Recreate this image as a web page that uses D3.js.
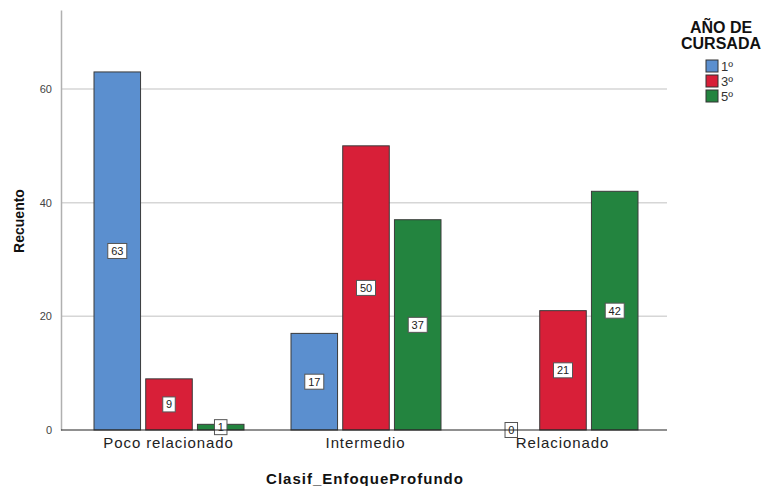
<!DOCTYPE html>
<html>
<head>
<meta charset="utf-8">
<script src="https://cdn.jsdelivr.net/npm/d3@7"></script>
<style>
  body { margin: 0; background: #fff; }
  svg { font-family: "Liberation Sans", Arial, sans-serif; }
</style>
</head>
<body>
<svg id="vis" width="763" height="486"></svg>
<script>
var categories = ["Poco relacionado", "Intermedio", "Relacionado"];
var years = ["1º", "3º", "5º"];
var anio1 = [63, 17, 0];
var anio3 = [9, 50, 21];
var anio5 = [1, 37, 42];
var yTicks = [0, 20, 40, 60];
var colors = ["#5b8fcf", "#d81f38", "#23843f"];

var series = [anio1, anio3, anio5];
var svg = d3.select("#vis");

var plot = { left: 61, right: 667, top: 10, bottom: 430 };

// escalas
var x0 = d3.scaleBand()
    .domain(categories)
    .range([70, 661])
    .padding(0);

var x1 = d3.scaleBand()
    .domain(years)
    .range([24, 174])
    .paddingInner(0.1);

var y = d3.scaleLinear()
    .domain([0, 73.9])
    .range([plot.bottom, plot.top]);

// rejilla
svg.append("g")
    .selectAll("line")
    .data(yTicks.filter(d => d > 0))
    .enter()
    .append("line")
    .attr("x1", plot.left)
    .attr("x2", plot.right)
    .attr("y1", d => y(d))
    .attr("y2", d => y(d))
    .attr("stroke", "#d6d6d6")
    .attr("stroke-width", 1.5);

// eje Y
var yAxis = d3.axisLeft(y).tickValues(yTicks).tickSize(0).tickPadding(9);
var yG = svg.append("g")
    .attr("transform", "translate(" + plot.left + ",0)")
    .call(yAxis);
yG.select(".domain").attr("stroke", "#b0b0b0").attr("stroke-width", 1.5);
yG.selectAll("text")
    .attr("font-size", 11)
    .attr("fill", "#444")
    .style("font-family", "Liberation Sans, Arial, sans-serif");

// barras
var groups = svg.append("g")
    .selectAll("g")
    .data(categories)
    .enter()
    .append("g")
    .attr("transform", d => "translate(" + x0(d) + ",0)");

var cells = groups.selectAll("g")
    .data((c, i) => years.map((yr, j) => ({ year: yr, j: j, value: series[j][i] })))
    .enter()
    .append("g");

cells.filter(d => d.value > 0)
    .append("rect")
    .attr("x", d => x1(d.year))
    .attr("y", d => y(d.value))
    .attr("width", x1.bandwidth())
    .attr("height", d => y(0) - y(d.value))
    .attr("fill", d => colors[d.j])
    .attr("stroke", "#3a3a3a")
    .attr("stroke-width", 1);

// eje X
svg.append("line")
    .attr("x1", plot.left)
    .attr("x2", plot.right)
    .attr("y1", plot.bottom)
    .attr("y2", plot.bottom)
    .attr("stroke", "#222")
    .attr("stroke-width", 1.2);

// etiquetas de valor
var labels = cells.append("g")
    .attr("transform", d => "translate(" + (x1(d.year) + x1.bandwidth() / 2) + "," + ((y(d.value) + y(0)) / 2) + ")");

labels.append("rect")
    .attr("x", d => -(String(d.value).length * 6.5 + 6) / 2)
    .attr("y", -7.5)
    .attr("width", d => String(d.value).length * 6.5 + 6)
    .attr("height", 15)
    .attr("fill", "#fff")
    .attr("stroke", "#555")
    .attr("stroke-width", 1);

labels.append("text")
    .attr("text-anchor", "middle")
    .attr("dy", "0.36em")
    .attr("font-size", 11)
    .attr("fill", "#222")
    .text(d => d.value);

// etiquetas de categoria
svg.append("g")
    .selectAll("text")
    .data(categories)
    .enter()
    .append("text")
    .attr("x", d => x0(d) + x0.bandwidth() / 2)
    .attr("y", 448)
    .attr("text-anchor", "middle")
    .attr("font-size", 15)
    .attr("letter-spacing", 0.9)
    .attr("fill", "#222")
    .text(d => d);

// titulos de ejes
svg.append("text")
    .attr("x", 365)
    .attr("y", 484)
    .attr("text-anchor", "middle")
    .attr("font-size", 15)
    .attr("letter-spacing", 1)
    .attr("font-weight", "bold")
    .attr("fill", "#111")
    .text("Clasif_EnfoqueProfundo");

svg.append("text")
    .attr("transform", "translate(24,221) rotate(-90)")
    .attr("text-anchor", "middle")
    .attr("font-size", 14)
    .attr("font-weight", "bold")
    .attr("fill", "#111")
    .text("Recuento");

// leyenda
var legend = svg.append("g");
legend.append("text")
    .attr("x", 721)
    .attr("y", 33)
    .attr("text-anchor", "middle")
    .attr("font-size", 16)
    .attr("font-weight", "bold")
    .attr("fill", "#111")
    .text("AÑO DE");
legend.append("text")
    .attr("x", 721)
    .attr("y", 49)
    .attr("text-anchor", "middle")
    .attr("font-size", 16)
    .attr("font-weight", "bold")
    .attr("fill", "#111")
    .text("CURSADA");

var items = legend.selectAll("g")
    .data(years)
    .enter()
    .append("g")
    .attr("transform", (d, i) => "translate(706," + (60 + i * 15) + ")");

items.append("rect")
    .attr("width", 12)
    .attr("height", 12)
    .attr("fill", (d, i) => colors[i])
    .attr("stroke", "#333")
    .attr("stroke-width", 1);

items.append("text")
    .attr("x", 15)
    .attr("y", 11)
    .attr("font-size", 13)
    .attr("fill", "#333")
    .text(d => d);
</script>
</body>
</html>
